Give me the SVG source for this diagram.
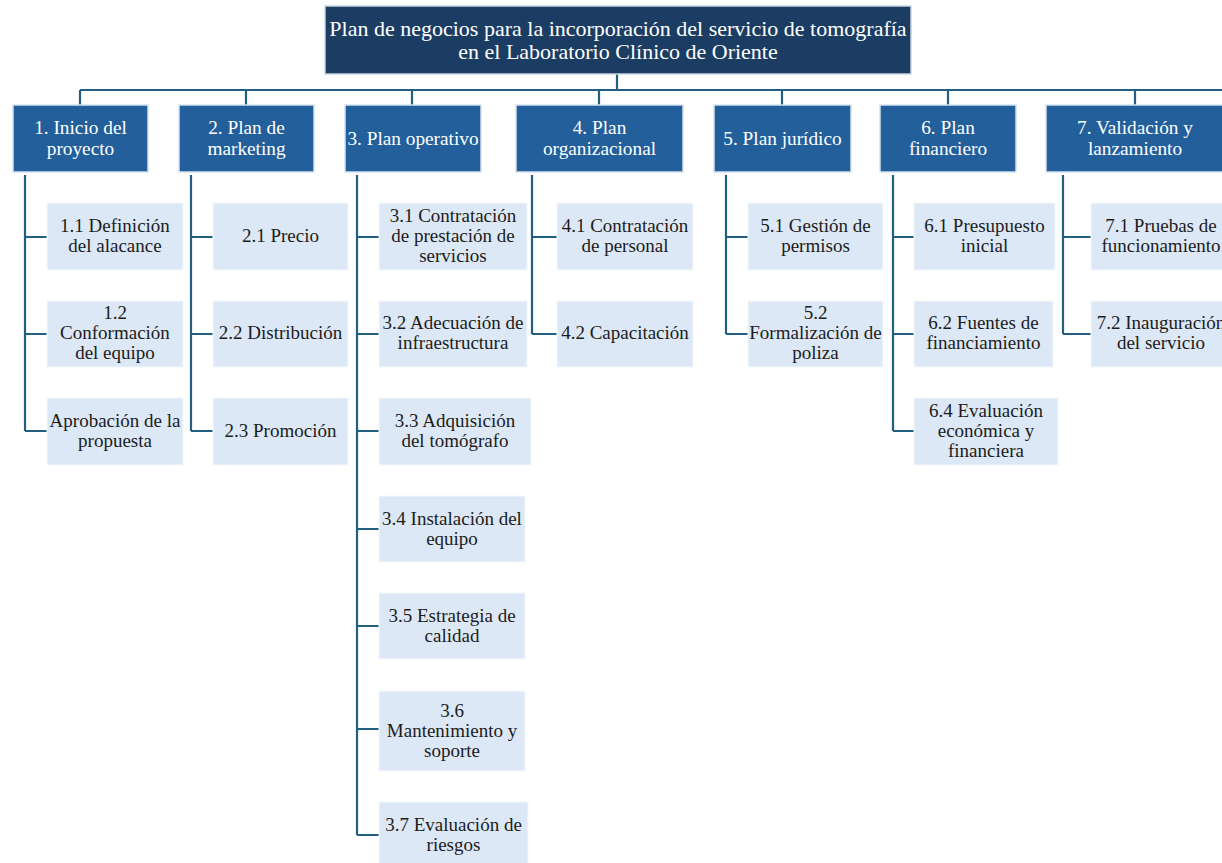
<svg xmlns="http://www.w3.org/2000/svg" width="1222" height="863" viewBox="0 0 1222 863">
  <style>
    .root rect { fill: #1b3d64; stroke: #c9d3de; stroke-width: 1.5; }
    .phase rect { fill: #225f9b; stroke: #d4e2f0; stroke-width: 1.5; }
    .task rect { fill: #dce8f5; stroke: #f4f8fc; stroke-width: 1; }
    text { font-family: "Liberation Serif", "Times New Roman", serif; text-anchor: middle; }
    .root text { fill: #ffffff; font-size: 22px; }
    .phase text { fill: #ffffff; font-size: 19.3px; }
    .task text { fill: #1c1c1c; font-size: 19px; }
    #connectors path { fill: none; stroke: #205f80; stroke-width: 2.2; }
  </style>
  <rect width="1222" height="863" fill="#ffffff"/>

  <!-- connector lines -->
  <g id="connectors">
    <path d="M617 74V90M80 90H1222M80 90V105M246 90V105M412 90V105M599 90V105M782 90V105M948 90V105M1135 90V105"/>
    <path d="M25 175V431M25 237H47M25 334H47M25 431H47"/>
    <path d="M191 175V431M191 237H213M191 334H213M191 431H213"/>
    <path d="M357 175V835M357 237H379M357 334H379M357 431H379M357 529H379M357 626H379M357 729H379M357 835H379"/>
    <path d="M532 175V334M532 237H557M532 334H557"/>
    <path d="M726 175V334M726 237H748M726 334H748"/>
    <path d="M893 175V431M893 237H914M893 334H914M893 431H914"/>
    <path d="M1063 175V334M1063 237H1091M1063 334H1091"/>
  </g>

  <!-- top node -->
  <g id="root" class="root">
    <rect x="325" y="6" width="586" height="68"/>
    <text x="618" y="36">Plan de negocios para la incorporación del servicio de tomografía</text>
    <text x="618" y="59">en el Laboratorio Clínico de Oriente</text>
  </g>

  <!-- phases -->
  <g id="p1" class="phase">
    <rect x="13" y="105" width="135" height="67"/>
    <text x="80.5" y="134">1. Inicio del</text>
    <text x="80.5" y="155">proyecto</text>
  </g>
  <g id="p2" class="phase">
    <rect x="179" y="105" width="135" height="67"/>
    <text x="246.5" y="134">2. Plan de</text>
    <text x="246.5" y="155">marketing</text>
  </g>
  <g id="p3" class="phase">
    <rect x="345" y="105" width="136" height="67"/>
    <text x="413" y="145">3. Plan operativo</text>
  </g>
  <g id="p4" class="phase">
    <rect x="516" y="105" width="167" height="67"/>
    <text x="599.5" y="134">4. Plan</text>
    <text x="599.5" y="155">organizacional</text>
  </g>
  <g id="p5" class="phase">
    <rect x="714" y="105" width="137" height="67"/>
    <text x="782.5" y="145">5. Plan jurídico</text>
  </g>
  <g id="p6" class="phase">
    <rect x="880" y="105" width="136" height="67"/>
    <text x="948" y="134">6. Plan</text>
    <text x="948" y="155">financiero</text>
  </g>
  <g id="p7" class="phase">
    <rect x="1046" y="105" width="180" height="67"/>
    <text x="1135" y="134">7. Validación y</text>
    <text x="1135" y="155">lanzamiento</text>
  </g>

  <!-- 1. Inicio del proyecto -->
  <g id="t1-1" class="task">
    <rect x="47" y="203" width="136" height="67"/>
    <text x="115" y="232">1.1 Definición</text>
    <text x="115" y="252">del alacance</text>
  </g>
  <g id="t1-2" class="task">
    <rect x="47" y="301" width="136" height="66"/>
    <text x="115" y="319">1.2</text>
    <text x="115" y="339">Conformación</text>
    <text x="115" y="359">del equipo</text>
  </g>
  <g id="t1-3" class="task">
    <rect x="47" y="398" width="136" height="67"/>
    <text x="115" y="427">Aprobación de la</text>
    <text x="115" y="447">propuesta</text>
  </g>

  <!-- 2. Plan de marketing -->
  <g id="t2-1" class="task">
    <rect x="213" y="203" width="135" height="67"/>
    <text x="280.5" y="242">2.1 Precio</text>
  </g>
  <g id="t2-2" class="task">
    <rect x="213" y="301" width="135" height="66"/>
    <text x="280.5" y="339">2.2 Distribución</text>
  </g>
  <g id="t2-3" class="task">
    <rect x="213" y="398" width="135" height="67"/>
    <text x="280.5" y="437">2.3 Promoción</text>
  </g>

  <!-- 3. Plan operativo -->
  <g id="t3-1" class="task">
    <rect x="379" y="203" width="148" height="67"/>
    <text x="453" y="222">3.1 Contratación</text>
    <text x="453" y="242">de prestación de</text>
    <text x="453" y="262">servicios</text>
  </g>
  <g id="t3-2" class="task">
    <rect x="379" y="301" width="148" height="66"/>
    <text x="453" y="329">3.2 Adecuación de</text>
    <text x="453" y="349">infraestructura</text>
  </g>
  <g id="t3-3" class="task">
    <rect x="379" y="398" width="152" height="67"/>
    <text x="455" y="427">3.3 Adquisición</text>
    <text x="455" y="447">del tomógrafo</text>
  </g>
  <g id="t3-4" class="task">
    <rect x="379" y="496" width="146" height="66"/>
    <text x="452" y="525">3.4 Instalación del</text>
    <text x="452" y="545">equipo</text>
  </g>
  <g id="t3-5" class="task">
    <rect x="379" y="593" width="146" height="66"/>
    <text x="452" y="622">3.5 Estrategia de</text>
    <text x="452" y="642">calidad</text>
  </g>
  <g id="t3-6" class="task">
    <rect x="379" y="691" width="146" height="80"/>
    <text x="452" y="717">3.6</text>
    <text x="452" y="737">Mantenimiento y</text>
    <text x="452" y="757">soporte</text>
  </g>
  <g id="t3-7" class="task">
    <rect x="379" y="802" width="149" height="67"/>
    <text x="453.5" y="831">3.7 Evaluación de</text>
    <text x="453.5" y="851">riesgos</text>
  </g>

  <!-- 4. Plan organizacional -->
  <g id="t4-1" class="task">
    <rect x="557" y="203" width="136" height="67"/>
    <text x="625" y="232">4.1 Contratación</text>
    <text x="625" y="252">de personal</text>
  </g>
  <g id="t4-2" class="task">
    <rect x="557" y="301" width="136" height="66"/>
    <text x="625" y="339">4.2 Capacitación</text>
  </g>

  <!-- 5. Plan jurídico -->
  <g id="t5-1" class="task">
    <rect x="748" y="203" width="135" height="67"/>
    <text x="815.5" y="232">5.1 Gestión de</text>
    <text x="815.5" y="252">permisos</text>
  </g>
  <g id="t5-2" class="task">
    <rect x="748" y="301" width="135" height="66"/>
    <text x="815.5" y="319">5.2</text>
    <text x="815.5" y="339">Formalización de</text>
    <text x="815.5" y="359">poliza</text>
  </g>

  <!-- 6. Plan financiero -->
  <g id="t6-1" class="task">
    <rect x="914" y="203" width="141" height="67"/>
    <text x="984.5" y="232">6.1 Presupuesto</text>
    <text x="984.5" y="252">inicial</text>
  </g>
  <g id="t6-2" class="task">
    <rect x="914" y="301" width="139" height="66"/>
    <text x="983.5" y="329">6.2 Fuentes de</text>
    <text x="983.5" y="349">financiamiento</text>
  </g>
  <g id="t6-4" class="task">
    <rect x="914" y="398" width="144" height="67"/>
    <text x="986" y="417">6.4 Evaluación</text>
    <text x="986" y="437">económica y</text>
    <text x="986" y="457">financiera</text>
  </g>

  <!-- 7. Validación y lanzamiento -->
  <g id="t7-1" class="task">
    <rect x="1091" y="203" width="140" height="67"/>
    <text x="1161" y="232">7.1 Pruebas de</text>
    <text x="1161" y="252">funcionamiento</text>
  </g>
  <g id="t7-2" class="task">
    <rect x="1091" y="301" width="140" height="66"/>
    <text x="1161" y="329">7.2 Inauguración</text>
    <text x="1161" y="349">del servicio</text>
  </g>
</svg>
